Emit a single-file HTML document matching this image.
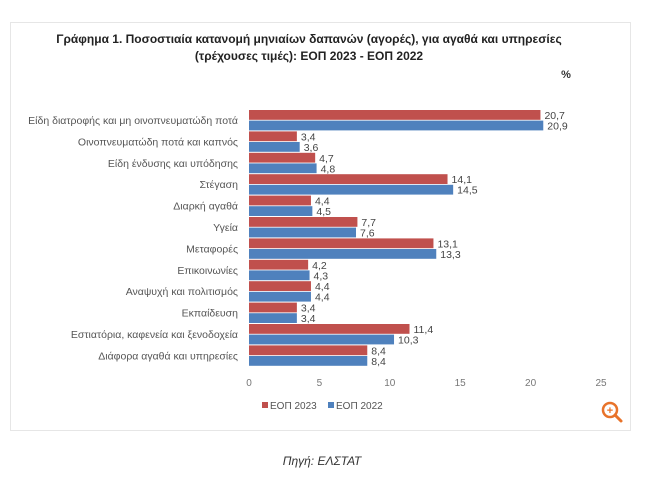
<!DOCTYPE html>
<html><head><meta charset="utf-8"><style>
body{margin:0;width:650px;height:481px;background:#fff;font-family:"Liberation Sans",sans-serif;overflow:hidden}
</style></head><body>
<svg width="650" height="481" xmlns="http://www.w3.org/2000/svg" font-family="Liberation Sans, sans-serif">
<rect x="10.5" y="22.5" width="620" height="408" fill="#fff" stroke="#e6e6e6"/>
<text x="309" y="43" text-anchor="middle" font-size="12" font-weight="bold" fill="#222">Γράφημα 1. Ποσοστιαία κατανομή μηνιαίων δαπανών (αγορές), για αγαθά και υπηρεσίες</text>
<text x="309" y="60" text-anchor="middle" font-size="12" font-weight="bold" fill="#222">(τρέχουσες τιμές): ΕΟΠ 2023 - ΕΟΠ 2022</text>
<text x="566" y="78" text-anchor="middle" font-size="11" font-weight="bold" fill="#333">%</text>
<g id="bars"></g>
<g font-size="10" fill="#777" text-anchor="middle">
<text x="249" y="386">0</text><text x="319.4" y="386">5</text><text x="389.8" y="386">10</text><text x="460.2" y="386">15</text><text x="530.6" y="386">20</text><text x="601" y="386">25</text>
</g>
<rect x="262" y="402" width="6" height="6" fill="#C0504D"/><text x="270" y="409" font-size="10" fill="#555">ΕΟΠ 2023</text>
<rect x="328" y="402" width="6" height="6" fill="#4F81BD"/><text x="336" y="409" font-size="10" fill="#555">ΕΟΠ 2022</text>
<circle cx="610" cy="410" r="7" fill="none" stroke="#E8732A" stroke-width="2.5"/>
<line x1="615" y1="415" x2="621" y2="421" stroke="#E8732A" stroke-width="3" stroke-linecap="round"/>
<text x="610" y="414" text-anchor="middle" font-size="11" font-weight="bold" fill="#E8732A">+</text>
<text x="322" y="465" text-anchor="middle" font-size="12" font-style="italic" fill="#333">Πηγή: ΕΛΣΤΑΤ</text>
</svg>
<script>
var cats=["Είδη διατροφής και μη οινοπνευματώδη ποτά","Οινοπνευματώδη ποτά και καπνός","Είδη ένδυσης και υπόδησης","Στέγαση","Διαρκή αγαθά","Υγεία","Μεταφορές","Επικοινωνίες","Αναψυχή και πολιτισμός","Εκπαίδευση","Εστιατόρια, καφενεία  και ξενοδοχεία","Διάφορα αγαθά και υπηρεσίες"];
var a=[20.7,3.4,4.7,14.1,4.4,7.7,13.1,4.2,4.4,3.4,11.4,8.4];
var b=[20.9,3.6,4.8,14.5,4.5,7.6,13.3,4.3,4.4,3.4,10.3,8.4];
var g=document.getElementById("bars"),s="",x0=249,k=14.08;
for(var i=0;i<12;i++){var y=110+i*21.4;
s+='<rect x="'+x0+'" y="'+y+'" width="'+(a[i]*k)+'" height="9.8" fill="#C0504D"/>';
s+='<rect x="'+x0+'" y="'+(y+10.6)+'" width="'+(b[i]*k)+'" height="9.8" fill="#4F81BD"/>';
s+='<text x="'+(x0+a[i]*k+4)+'" y="'+(y+9)+'" font-size="10.5" fill="#444">'+String(a[i]).replace(".",",")+'</text>';
s+='<text x="'+(x0+b[i]*k+4)+'" y="'+(y+19.5)+'" font-size="10.5" fill="#444">'+String(b[i]).replace(".",",")+'</text>';
s+='<text x="238" y="'+(y+14)+'" font-size="10.5" fill="#555" text-anchor="end">'+cats[i]+'</text>';}
g.innerHTML=s;
</script>
</body></html>
